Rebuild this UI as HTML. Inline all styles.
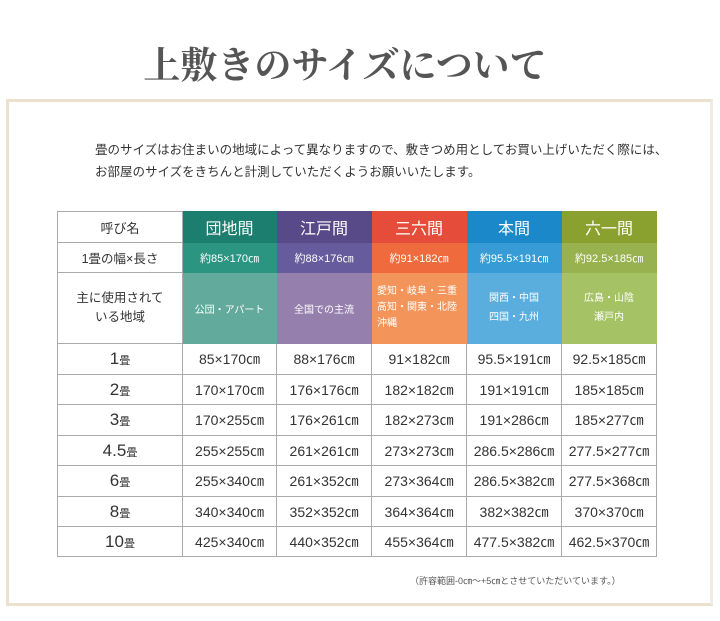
<!DOCTYPE html>
<html><head><meta charset="utf-8"><style>
body{margin:0;width:720px;height:621px;background:#fff;position:relative;overflow:hidden;font-family:"Liberation Sans","Noto Sans CJK JP",sans-serif;color:#333}
.title{position:absolute;left:0;width:690px;top:35px;text-align:center;font-family:"Liberation Serif","Noto Serif CJK SC",serif;font-size:37px;font-weight:bold;color:#555;letter-spacing:0px}
.frame{position:absolute;left:6px;top:99px;width:701px;height:501px;border:3px solid #ece1cc;border-right-color:#f1ece4;background:#fff}
.txt{position:absolute;left:95px;top:139px;font-size:12.5px;line-height:22px;color:#333}
table{position:absolute;left:57px;top:211px;border-collapse:collapse;font-size:14px}
td{border:1px solid #aaa;text-align:center;padding:0;color:#333}
.c td.h{color:#fff;font-size:16px}
.note{position:absolute;left:410px;top:574px;font-size:9px;color:#555}
.n{font-size:17px}.s{font-size:11px}
</style></head><body>
<div class="title">上敷きのサイズについて</div>
<div class="frame"></div>
<div class="txt">畳のサイズはお住まいの地域によって異なりますので、敷きつめ用としてお買い上げいただく際には、<br>お部屋のサイズをきちんと計測していただくようお願いいたします。</div>
<table>
<colgroup><col style="width:125px"><col style="width:94px"><col style="width:95px"><col style="width:95px"><col style="width:95px"><col style="width:95px"></colgroup>
<tr class="c" style="height:31px"><td style="font-size:13px">呼び名</td><td class="h" style="background:#1b7e6f;border-color:#1b7e6f">団地間</td><td class="h" style="background:#584a88;border-color:#584a88">江戸間</td><td class="h" style="background:#e64c3a;border-color:#e64c3a">三六間</td><td class="h" style="background:#1b89c9;border-color:#1b89c9">本間</td><td class="h" style="background:#8aa12f;border-color:#8aa12f">六一間</td></tr>
<tr style="height:30px;font-size:11px;color:#fff"><td style="font-size:12.5px">1畳の幅×長さ</td><td style="background:#2b9582;color:#fff;border-color:#2b9582">約85×170㎝</td><td style="background:#665b9c;color:#fff;border-color:#665b9c">約88×176㎝</td><td style="background:#ef6b3e;color:#fff;border-color:#ef6b3e">約91×182㎝</td><td style="background:#379bd6;color:#fff;border-color:#379bd6">約95.5×191㎝</td><td style="background:#98b250;color:#fff;border-color:#98b250">約92.5×185㎝</td></tr>
<tr style="height:71px;font-size:10px"><td style="font-size:12.5px;line-height:19px">主に使用されて<br>いる地域</td><td style="background:#62aa9b;color:#fff;border-color:#62aa9b">公団・アパート</td><td style="background:#957fad;color:#fff;border-color:#957fad">全国での主流</td><td style="background:#f3955a;color:#fff;border-color:#f3955a;text-align:left;padding-left:5px;line-height:16px">愛知・岐阜・三重<br>高知・関東・北陸<br>沖縄</td><td style="background:#5aaedd;color:#fff;border-color:#5aaedd;line-height:19px">関西・中国<br>四国・九州</td><td style="background:#a5c264;color:#fff;border-color:#a5c264;line-height:19px">広島・山陰<br>瀬戸内</td></tr>
<tr style="height:31px"><td><span class="n">1</span><span class="s">畳</span></td><td>85×170㎝</td><td>88×176㎝</td><td>91×182㎝</td><td>95.5×191㎝</td><td>92.5×185㎝</td></tr>
<tr style="height:30px"><td><span class="n">2</span><span class="s">畳</span></td><td>170×170㎝</td><td>176×176㎝</td><td>182×182㎝</td><td>191×191㎝</td><td>185×185㎝</td></tr>
<tr style="height:31px"><td><span class="n">3</span><span class="s">畳</span></td><td>170×255㎝</td><td>176×261㎝</td><td>182×273㎝</td><td>191×286㎝</td><td>185×277㎝</td></tr>
<tr style="height:30px"><td><span class="n">4.5</span><span class="s">畳</span></td><td>255×255㎝</td><td>261×261㎝</td><td>273×273㎝</td><td>286.5×286㎝</td><td>277.5×277㎝</td></tr>
<tr style="height:31px"><td><span class="n">6</span><span class="s">畳</span></td><td>255×340㎝</td><td>261×352㎝</td><td>273×364㎝</td><td>286.5×382㎝</td><td>277.5×368㎝</td></tr>
<tr style="height:30px"><td><span class="n">8</span><span class="s">畳</span></td><td>340×340㎝</td><td>352×352㎝</td><td>364×364㎝</td><td>382×382㎝</td><td>370×370㎝</td></tr>
<tr style="height:30px"><td><span class="n">10</span><span class="s">畳</span></td><td>425×340㎝</td><td>440×352㎝</td><td>455×364㎝</td><td>477.5×382㎝</td><td>462.5×370㎝</td></tr>
</table>
<div class="note">（許容範囲-0㎝～+5㎝とさせていただいています。）</div>
</body></html>
